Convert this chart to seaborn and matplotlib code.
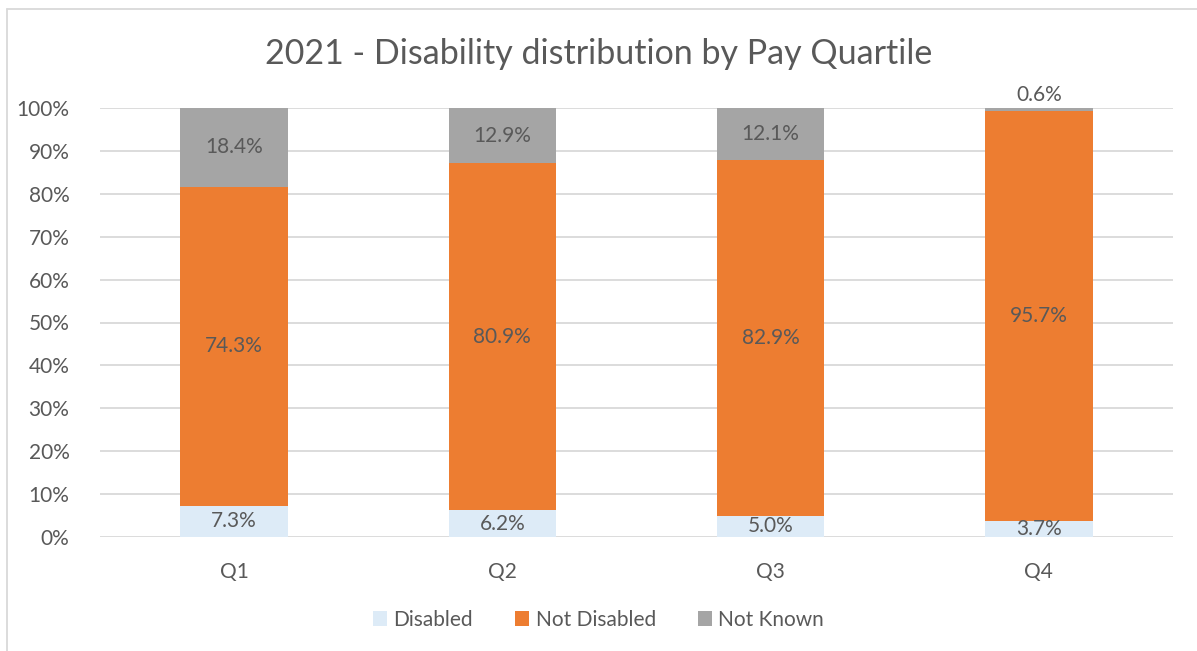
import matplotlib
matplotlib.use("Agg")
import matplotlib.pyplot as plt
import seaborn as sns
import pandas as pd
import numpy as np
from matplotlib.lines import Line2D
from matplotlib.patches import Patch

quartiles = ["Q1", "Q2", "Q3", "Q4"]
disabled = [7.3, 6.2, 5.0, 3.7]
not_disabled = [74.3, 80.9, 82.9, 95.7]
not_known = [18.4, 12.9, 12.1, 0.6]
series_names = ["Disabled", "Not Disabled", "Not Known"]
colors = ["#DDEBF7", "#ED7D31", "#A5A5A5"]
title = "2021 - Disability distribution by Pay Quartile"

sns.set_theme(style="white")
plt.rcParams["font.family"] = ["Lato", "DejaVu Sans"]
txt = "#595959"
fs = 15

df = pd.DataFrame({"Quartile": quartiles, "Disabled": disabled,
                   "Not Disabled": not_disabled, "Not Known": not_known})
df["c1"] = df["Disabled"]
df["c2"] = df["Disabled"] + df["Not Disabled"]
df["c3"] = df["c2"] + df["Not Known"]

fig = plt.figure(figsize=(11.97, 6.51), dpi=100)
ax = fig.add_axes([100/1197, 1 - 537/651, (1173-100)/1197, (537-108)/651])

w = 0.40
for col, color in zip(["c3", "c2", "c1"], colors[::-1]):
    sns.barplot(data=df, x="Quartile", y=col, color=color, width=w,
                saturation=1, ax=ax, zorder=3, linewidth=0)

ax.set_ylim(0, 100)
ax.set_xlim(-0.5, 3.5)
ax.set_yticks(np.arange(0, 101, 10))
ax.set_yticklabels([f"{v}%" for v in range(0, 101, 10)], color=txt, fontsize=fs)
ax.tick_params(axis="x", colors=txt, labelsize=fs, pad=18, length=0)
ax.tick_params(axis="y", pad=22, length=0)
ax.set_xlabel("")
ax.set_ylabel("")
ax.yaxis.grid(True, color="#D9D9D9", linewidth=1.3, zorder=0)
for s in ax.spines.values():
    s.set_visible(False)

for i in range(len(quartiles)):
    d, n, k = disabled[i], not_disabled[i], not_known[i]
    ax.text(i, d/2, f"{d:.1f}%", ha="center", va="center", color=txt, fontsize=fs, zorder=5)
    ax.text(i, d + n/2, f"{n:.1f}%", ha="center", va="center", color=txt, fontsize=fs, zorder=5)
    if k < 3:
        ax.text(i, d + n + k + 0.6, f"{k:.1f}%", ha="center", va="bottom", color=txt, fontsize=fs, zorder=5)
    else:
        ax.text(i, d + n + k/2, f"{k:.1f}%", ha="center", va="center", color=txt, fontsize=fs, zorder=5)

fig.text(0.5, 1 - 54/651, title, ha="center", va="center", color=txt, fontsize=24.5)

handles = [Patch(facecolor=c, edgecolor="none") for c in colors]
fig.legend(handles, series_names, loc="center", bbox_to_anchor=(0.5, 1 - 620/651),
           ncol=3, frameon=False, fontsize=fs, labelcolor=txt,
           handlelength=0.7, handleheight=0.7, handletextpad=0.3, columnspacing=2.0)

fig.add_artist(Line2D([7/1197, 7/1197], [0, 1 - 9/651], transform=fig.transFigure,
                      color="#D9D9D9", linewidth=1.3))
fig.add_artist(Line2D([7/1197, 1], [1 - 9/651, 1 - 9/651], transform=fig.transFigure,
                      color="#D9D9D9", linewidth=1.3))

fig.savefig("out.png", dpi=100, facecolor="white")
